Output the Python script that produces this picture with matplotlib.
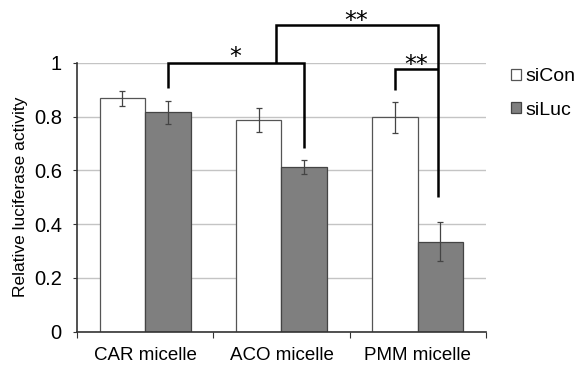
import numpy as np
import matplotlib
matplotlib.use('Agg')
import matplotlib.pyplot as plt

plt.rcParams['font.family'] = ['Liberation Sans', 'DejaVu Sans']

categories = ['CAR micelle', 'ACO micelle', 'PMM micelle']
series = ['siCon', 'siLuc']
sicon = [0.868, 0.787, 0.797]
sicon_err = [0.028, 0.045, 0.058]
siluc = [0.816, 0.613, 0.335]
siluc_err = [0.043, 0.026, 0.071]
yticks = [0, 0.2, 0.4, 0.6, 0.8, 1]

fig = plt.figure(figsize=(5.75, 3.65), dpi=100)
ax = fig.add_axes([0.134, 0.0912, 0.711, 0.737])

x = np.arange(len(categories))
w = 1 / 3
ax.bar(x - w / 2, sicon, w, color='white', edgecolor='#555555', linewidth=0.9,
       label=series[0], zorder=2)
ax.bar(x + w / 2, siluc, w, color='#7f7f7f', edgecolor='#444444', linewidth=0.9,
       label=series[1], zorder=2)
ax.errorbar(x - w / 2, sicon, yerr=sicon_err, fmt='none', ecolor='#444444',
            elinewidth=0.9, capsize=2.5, capthick=0.9, zorder=3)
ax.errorbar(x + w / 2, siluc, yerr=siluc_err, fmt='none', ecolor='#444444',
            elinewidth=0.9, capsize=2.5, capthick=0.9, zorder=3)

ax.set_xlim(-0.5, 2.5)
ax.set_ylim(0, 1)
ax.set_yticks(yticks)
ax.set_yticklabels(['%g' % t for t in yticks], fontsize=14.5)
ax.yaxis.grid(True, color='#c4c4c4', linewidth=1)
ax.set_axisbelow(True)
ax.set_xticks(np.arange(-0.5, 3, 1))
ax.set_xticklabels([])
ax.set_xticks(x, minor=True)
ax.set_xticklabels(categories, minor=True, fontsize=13.5)
ax.tick_params(axis='x', which='minor', length=0, pad=11)
ax.tick_params(axis='x', which='major', length=4, direction='out', color='#333333')
ax.tick_params(axis='y', length=3, direction='out', color='#333333', pad=8)
ax.set_ylabel('Relative luciferase activity', fontsize=12.5, labelpad=4)
for s in ['top', 'right']:
    ax.spines[s].set_visible(False)
for s in ['left', 'bottom']:
    ax.spines[s].set_color('#333333')
    ax.spines[s].set_linewidth(1.2)

# significance brackets
kw = dict(color='black', linewidth=1.8, clip_on=False, solid_capstyle='butt',
          solid_joinstyle='miter')
star = dict(ha='center', va='center', fontsize=17, clip_on=False,
            family='DejaVu Sans')
# * : CAR siLuc vs ACO siLuc
ax.plot([0 + w / 2, 0 + w / 2, 1 + w / 2, 1 + w / 2], [0.905, 1.0, 1.0, 0.682], **kw)
ax.text(0.66, 1.02, '*', **star)
# ** : big bracket to PMM siLuc
ax.plot([0.963, 0.963, 2.147, 2.147], [1.0, 1.14, 1.14, 0.50], **kw)
ax.text(1.55, 1.155, '**', **star)
# ** : PMM siCon vs siLuc
ax.plot([2 - w / 2, 2 - w / 2, 2.147], [0.898, 0.977, 0.977], **kw)
ax.text(1.99, 0.99, '**', **star)

fig.legend(loc='upper left', bbox_to_anchor=(0.876, 0.835), frameon=False,
           fontsize=14, handlelength=0.5, handleheight=0.5, handletextpad=0.2,
           labelspacing=0.85, borderaxespad=0)

fig.savefig('out.png', dpi=100, facecolor='white')
